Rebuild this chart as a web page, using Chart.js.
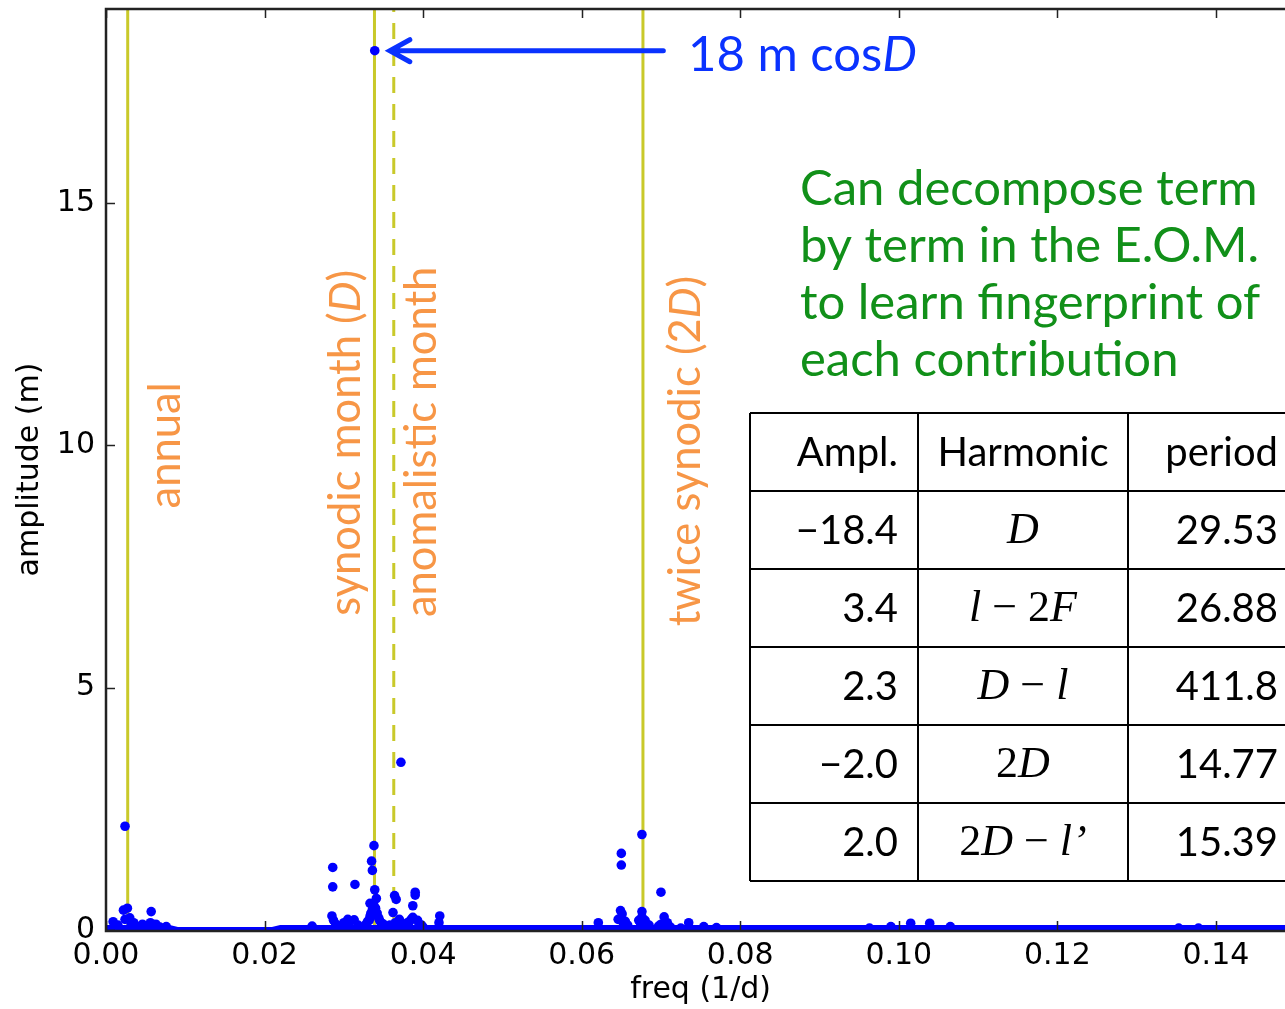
<!DOCTYPE html>
<html>
<head>
<meta charset="utf-8">
<script src="https://cdn.jsdelivr.net/npm/chart.js@4.4.1/dist/chart.umd.min.js"></script>
<style>
html, body { margin: 0; padding: 0; background: #fff; overflow: hidden; }
#wrap { width: 1285px; height: 1009px; overflow: hidden; }
</style>
</head>
<body>
<div id="wrap"><canvas id="c" width="1300" height="1009"></canvas></div>
<script>
// スペクトルのピーク（周波数 1/d, 振幅 m）
var peakFreq = [
  0.0024, 0.0027, 0.0022, 0.0057, 0.0009, 0.0024, 0.0046, 0.0076, 0.0032, 0.0056,
  0.0015, 0.0030, 0.0035, 0.0063, 0.0068,
  0.0339, 0.0286, 0.0286, 0.0314, 0.0338, 0.0335, 0.0336, 0.0339, 0.0341, 0.0333,
  0.0334, 0.0340, 0.0336, 0.0332, 0.0345, 0.0372, 0.0364, 0.0366, 0.0390, 0.0390,
  0.0387, 0.0362, 0.0421, 0.0285, 0.0287, 0.0305, 0.0313, 0.0307, 0.0260, 0.0370,
  0.0387, 0.0393, 0.0380, 0.0365, 0.0420, 0.0350, 0.0398,
  0.0328, 0.0330, 0.0333, 0.0336, 0.0338, 0.0342, 0.0344, 0.0347, 0.0350,
  0.0290, 0.0295, 0.0300, 0.0318, 0.0358, 0.0368, 0.0375, 0.0383, 0.0385, 0.0395, 0.0400,
  0.0676, 0.0650, 0.0650, 0.0700, 0.0649, 0.0651, 0.0649, 0.0676, 0.0676, 0.0704,
  0.0621, 0.0735, 0.0754, 0.0770, 0.0653, 0.0674, 0.0700,
  0.0646, 0.0655, 0.0658, 0.0672, 0.0680, 0.0685, 0.0697, 0.0708, 0.0712, 0.0725,
  0.1015, 0.1039, 0.0990, 0.0963, 0.1065, 0.1353, 0.1378
];
var peakAmp = [
  2.14, 0.45, 0.41, 0.38, 0.17, 0.22, 0.12, 0.07, 0.12, 0.15,
  0.10, 0.25, 0.15, 0.12, 0.06,
  18.14, 1.29, 0.89, 0.94, 1.74, 1.42, 1.23, 0.83, 0.65, 0.55,
  0.34, 0.45, 0.30, 0.20, 0.20, 3.46, 0.71, 0.63, 0.78, 0.72,
  0.50, 0.36, 0.29, 0.29, 0.20, 0.22, 0.21, 0.15, 0.08, 0.22,
  0.26, 0.20, 0.15, 0.15, 0.15, 0.12, 0.10,
  0.12, 0.18, 0.28, 0.42, 0.50, 0.35, 0.25, 0.15, 0.08,
  0.12, 0.08, 0.15, 0.10, 0.10, 0.12, 0.10, 0.18, 0.22, 0.12, 0.06,
  1.97, 1.58, 1.34, 0.78, 0.40, 0.33, 0.22, 0.38, 0.27, 0.27,
  0.15, 0.15, 0.07, 0.05, 0.12, 0.15, 0.12,
  0.22, 0.18, 0.10, 0.20, 0.20, 0.10, 0.08, 0.15, 0.06, 0.04,
  0.14, 0.14, 0.07, 0.04, 0.07, 0.04, 0.04
];

// 底の連続スペクトル
var floorFreq = [0.000, 0.008, 0.009, 0.021, 0.022, 0.150];
var floorAmp  = [0.05, 0.05, 0.01, 0.01, 0.05, 0.05];

// 基準周期の縦線
var markFreq  = [1 / 365.25, 1 / 29.53, 1 / 27.55, 2 / 29.53];
var markDash  = [false, false, true, false];

var xTicks = [0.00, 0.02, 0.04, 0.06, 0.08, 0.10, 0.12, 0.14];
var yTicks = [0, 5, 10, 15];

// 表
var tableHeader = ['Ampl.', 'Harmonic', 'period'];
var tableAmpl = ['\u221218.4', '3.4', '2.3', '\u22122.0', '2.0'];
var tableHarmonic = [
  [['D', true]],
  [['l', true], [' \u2212 2', false], ['F', true]],
  [['D', true], [' \u2212 ', false], ['l', true]],
  [['2', false], ['D', true]],
  [['2', false], ['D', true], [' \u2212 ', false], ['l\u2019', true]]
];
var tablePeriod = ['29.53', '26.88', '411.8', '14.77', '15.39'];

var noteLines = ['Can decompose term', 'by term in the E.O.M.', 'to learn fingerprint of', 'each contribution'];

var SANS = 'Lato, "Open Sans", sans-serif';
var SERIF = '"Liberation Serif", "DejaVu Serif", serif';
var TICKFONT = { family: '"DejaVu Sans"', size: 30 };
var ORANGE = '#f79646';
var BLUE = '#0a32ff';
var GREEN = '#119019';

// 縦書きラベル（データ座標で配置）
var rotLabels = [
  { x: 0.00755, y: 10.0, parts: [['annual', false]] },
  { x: 0.0303, y: 10.05, parts: [['synodic month (', false], ['D', true], [')', false]] },
  { x: 0.0398, y: 10.07, parts: [['anomalistic month', false]] },
  { x: 0.0732, y: 9.88, parts: [['twice synodic (2', false], ['D', true], [')', false]] }
];

function drawParts(ctx, parts, x, y, size, family, align) {
  var total = 0;
  parts.forEach(function(p) {
    ctx.font = (p[1] ? 'italic ' : '') + size + 'px ' + family;
    total += ctx.measureText(p[0]).width;
  });
  var cx = x;
  if (align === 'center') cx = x - total / 2;
  if (align === 'right') cx = x - total;
  ctx.textAlign = 'left';
  parts.forEach(function(p) {
    ctx.font = (p[1] ? 'italic ' : '') + size + 'px ' + family;
    ctx.fillText(p[0], cx, y);
    cx += ctx.measureText(p[0]).width;
  });
}

var framePlugin = {
  id: 'frame',
  afterDatasetsDraw: function(chart) {
    var ctx = chart.ctx;
    var a = chart.chartArea;
    var xs = chart.scales.x, ys = chart.scales.y;
    ctx.save();
    ctx.strokeStyle = '#222';
    ctx.lineWidth = 1.5;
    xTicks.forEach(function(v) {
      var px = Math.round(xs.getPixelForValue(v)) + 0.5;
      ctx.beginPath();
      ctx.moveTo(px, a.bottom); ctx.lineTo(px, a.bottom - 9);
      ctx.moveTo(px, a.top); ctx.lineTo(px, a.top + 9);
      ctx.stroke();
    });
    yTicks.forEach(function(v) {
      var py = Math.round(ys.getPixelForValue(v)) + 0.5;
      ctx.beginPath();
      ctx.moveTo(a.left, py); ctx.lineTo(a.left + 9, py);
      ctx.stroke();
    });
    ctx.lineWidth = 2.5;
    ctx.strokeRect(a.left, a.top, a.right - a.left, a.bottom - a.top + 1);
    ctx.restore();
  },
  afterDraw: function(chart) {
    var ctx = chart.ctx;
    var xs = chart.scales.x, ys = chart.scales.y;
    ctx.save();

    // 縦書きラベル
    ctx.fillStyle = ORANGE;
    ctx.textBaseline = 'middle';
    rotLabels.forEach(function(l) {
      ctx.save();
      ctx.translate(xs.getPixelForValue(l.x), ys.getPixelForValue(l.y));
      ctx.rotate(-Math.PI / 2);
      drawParts(ctx, l.parts, 0, 0, 43.5, SANS, 'center');
      ctx.restore();
    });

    // 矢印と注記
    var tipX = xs.getPixelForValue(0.0358);
    var tailX = xs.getPixelForValue(0.0703);
    var ay = ys.getPixelForValue(peakAmp[15]);
    ctx.strokeStyle = BLUE;
    ctx.lineWidth = 5;
    ctx.lineCap = 'round';
    ctx.beginPath();
    ctx.moveTo(tailX, ay); ctx.lineTo(tipX + 2, ay);
    ctx.moveTo(tipX + 20, ay - 11); ctx.lineTo(tipX, ay); ctx.lineTo(tipX + 20, ay + 11);
    ctx.stroke();
    ctx.fillStyle = BLUE;
    ctx.textBaseline = 'alphabetic';
    drawParts(ctx, [['18 m cos', false], ['D', true]], 688, ay + 20, 49, SANS, 'left');

    // 緑の説明文
    ctx.fillStyle = GREEN;
    noteLines.forEach(function(t, i) {
      drawParts(ctx, [[t, false]], 800, 205 + i * 57, 49, SANS, 'left');
    });

    // 表
    var colX = [750, 918, 1128, 1340];
    var rowY = [413, 491, 569, 647, 725, 803, 881];
    ctx.fillStyle = '#fff';
    ctx.fillRect(colX[0], rowY[0], colX[3] - colX[0], rowY[6] - rowY[0]);
    ctx.strokeStyle = '#000';
    ctx.lineWidth = 2;
    ctx.lineCap = 'butt';
    ctx.beginPath();
    rowY.forEach(function(y) { ctx.moveTo(colX[0], y); ctx.lineTo(colX[3], y); });
    colX.forEach(function(x) { ctx.moveTo(x, rowY[0]); ctx.lineTo(x, rowY[6]); });
    ctx.stroke();

    ctx.fillStyle = '#000';
    ctx.textBaseline = 'middle';
    var hy = (rowY[0] + rowY[1]) / 2 + 1;
    drawParts(ctx, [[tableHeader[0], false]], 898, hy, 40, SANS, 'right');
    drawParts(ctx, [[tableHeader[1], false]], 1023, hy, 40, SANS, 'center');
    drawParts(ctx, [[tableHeader[2], false]], 1278, hy, 40, SANS, 'right');
    for (var i = 0; i < tableAmpl.length; i++) {
      var cy = (rowY[i + 1] + rowY[i + 2]) / 2 + 1;
      drawParts(ctx, [[tableAmpl[i], false]], 898, cy, 40, SANS, 'right');
      drawParts(ctx, tableHarmonic[i], 1023, cy, 44, SERIF, 'center');
      drawParts(ctx, [[tablePeriod[i], false]], 1278, cy, 40, SANS, 'right');
    }
    ctx.restore();
  }
};

// 目盛りは配列どおりに固定
function fixedTicks(values) {
  return function(scale) {
    scale.ticks = values.map(function(v) { return { value: v }; });
  };
}

var peakData = peakFreq.map(function(f, i) { return { x: f, y: peakAmp[i] }; });
var floorData = floorFreq.map(function(f, i) { return { x: f, y: floorAmp[i] }; });

var datasets = [
  {
    data: peakData,
    backgroundColor: '#0000ff',
    borderWidth: 0,
    pointRadius: 4.8,
    order: 0
  },
  {
    data: floorData,
    showLine: true,
    borderColor: '#0000ff',
    borderWidth: 5,
    pointRadius: 0,
    order: 1
  }
];
markFreq.forEach(function(f, i) {
  datasets.push({
    data: [{ x: f, y: 0 }, { x: f, y: 19 }],
    showLine: true,
    borderColor: '#c9c92a',
    borderWidth: 3,
    borderDash: markDash[i] ? [16, 11] : [],
    pointRadius: 0,
    order: 2
  });
});

new Chart(document.getElementById('c').getContext('2d'), {
  type: 'scatter',
  data: { datasets: datasets },
  options: {
    responsive: false,
    animation: false,
    layout: { padding: { top: 9, right: 1, bottom: 0, left: 0 } },
    plugins: { legend: { display: false }, tooltip: { enabled: false } },
    scales: {
      x: {
        type: 'linear',
        min: 0,
        max: 0.15,
        grid: { display: false },
        border: { display: false },
        afterBuildTicks: fixedTicks(xTicks),
        afterFit: function(s) { s.height = 79; s.paddingLeft = 0; s.paddingRight = 0; },
        ticks: {
          autoSkip: false,
          maxRotation: 0,
          padding: 0,
          color: '#000',
          font: TICKFONT,
          callback: function(v) { return v.toFixed(2); }
        },
        title: {
          display: true,
          text: 'freq (1/d)',
          color: '#000',
          font: TICKFONT,
          padding: { top: 0, bottom: 1 }
        }
      },
      y: {
        min: 0,
        max: 19,
        grid: { display: false },
        border: { display: false },
        afterBuildTicks: fixedTicks(yTicks),
        afterFit: function(s) { s.width = 106; s.paddingTop = 0; s.paddingBottom = 0; },
        ticks: {
          padding: 3,
          color: '#000',
          font: TICKFONT
        },
        title: {
          display: true,
          text: 'amplitude (m)',
          color: '#000',
          font: TICKFONT,
          padding: { top: 12, bottom: 0 }
        }
      }
    }
  },
  plugins: [framePlugin]
});
</script>
</body>
</html>
